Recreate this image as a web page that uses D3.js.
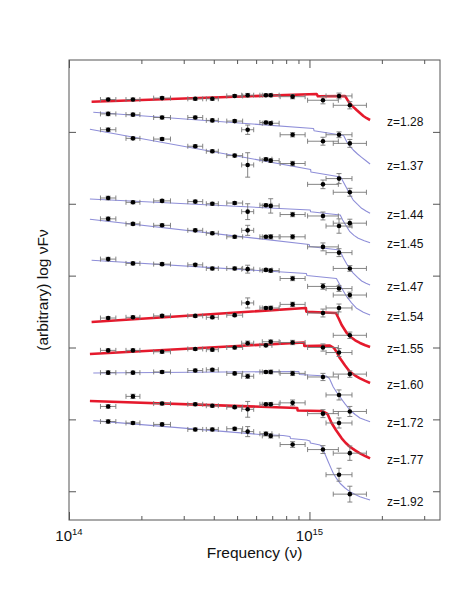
<!DOCTYPE html>
<html>
<head>
<meta charset="utf-8">
<script src="https://cdn.jsdelivr.net/npm/d3@7"></script>
<style>
body { margin: 0; background: #fff; }
svg text { font-family: "Liberation Sans", Arial, Helvetica, sans-serif; fill: #111; }
</style>
</head>
<body>
<div id="sed_container"></div>
<script>
// Filters (observed frame): frequency in Hz, half band width in dex
const filterNames = ['K', 'H', 'J', 'z', 'i', 'r', 'V', 'g', 'B', 'U', 'UVW1', 'UVM2', 'UVW2']
const filterFreq = [1.455e14, 1.845e14, 2.438e14, 3.35e14, 3.945e14, 4.887e14, 5.534e14, 6.59e14, 6.90e14, 8.51e14, 1.138e15, 1.327e15, 1.472e15]
const filterHalfWidth = [0.032, 0.029, 0.035, 0.031, 0.025, 0.033, 0.025, 0.025, 0.035, 0.052, 0.064, 0.054, 0.069]

// Sources, top to bottom
const redshifts = [1.28, 1.37, 1.44, 1.45, 1.47, 1.54, 1.55, 1.60, 1.72, 1.77, 1.92]
const modelKind = ['red', 'blue', 'blue', 'blue', 'blue', 'blue', 'red', 'red', 'blue', 'red', 'blue']

// Photometry, log nuFnu (arbitrary offsets), one row per source, columns follow filterNames
const fluxes = [
	[5.45, 5.45, 5.47, 5.46, 5.46, 5.50, 5.51, 5.51, 5.51, 5.49, 5.44, 5.50, 5.37],
	[5.25, 5.24, 5.20, 5.20, 5.16, 5.15, 5.03, 5.13, 5.12, 4.96, 4.87, 4.96, 4.84],
	[5.03, 4.91, 4.90, 4.80, 4.73, 4.67, 4.54, 4.62, 4.60, 4.56, 4.27, 4.35, 4.16],
	[4.08, 4.02, 4.04, 4.03, 4.00, 4.01, 3.89, 3.98, 3.97, 3.85, 3.83, 3.69, 3.73],
	[3.79, 3.72, 3.70, 3.63, 3.59, 3.54, 3.63, 3.54, 3.54, 3.54, 3.40, 3.32, 3.10],
	[3.23, 3.17, 3.16, 3.15, 3.10, 3.10, 3.09, 3.08, 3.07, 2.96, 2.85, 2.82, 2.73],
	[2.41, 2.42, 2.44, 2.44, 2.42, 2.45, 2.62, 2.55, 2.55, 2.60, 2.48, 2.55, 2.17],
	[1.96, 1.96, 1.94, 1.98, 1.97, 2.00, 2.06, 2.03, 2.08, 2.07, 2.00, 1.93, 1.63],
	[1.65, 1.65, 1.66, 1.68, 1.69, 1.64, 1.60, 1.66, 1.66, 1.64, 1.59, 1.34, 1.11],
	[1.18, 1.32, 1.22, 1.21, 1.19, 1.17, 1.14, 1.21, 1.21, 1.23, 1.08, 0.95, 0.53],
	[0.97, 0.95, 0.93, 0.86, 0.86, 0.87, 0.83, 0.80, 0.77, 0.65, 0.58, 0.23, -0.04]
]
const fluxErrors = [
	[0.02, 0.02, 0.02, 0.02, 0.02, 0.02, 0.025, 0.02, 0.02, 0.03, 0.05, 0.04, 0.05],
	[0.025, 0.02, 0.02, 0.02, 0.02, 0.02, 0.065, 0.02, 0.025, 0.03, 0.055, 0.04, 0.055],
	[0.025, 0.02, 0.02, 0.02, 0.02, 0.02, 0.17, 0.02, 0.025, 0.03, 0.06, 0.07, 0.055],
	[0.025, 0.02, 0.02, 0.02, 0.02, 0.02, 0.11, 0.02, 0.1, 0.03, 0.055, 0.1, 0.055],
	[0.025, 0.02, 0.02, 0.02, 0.02, 0.02, 0.07, 0.02, 0.03, 0.03, 0.055, 0.055, 0.04],
	[0.025, 0.02, 0.02, 0.02, 0.02, 0.02, 0.055, 0.02, 0.025, 0.03, 0.04, 0.04, 0.04],
	[0.02, 0.02, 0.02, 0.02, 0.02, 0.02, 0.07, 0.02, 0.025, 0.03, 0.055, 0.055, 0.045],
	[0.02, 0.02, 0.02, 0.02, 0.02, 0.02, 0.03, 0.02, 0.025, 0.03, 0.05, 0.055, 0.045],
	[0.025, 0.02, 0.02, 0.02, 0.02, 0.02, 0.03, 0.02, 0.025, 0.03, 0.05, 0.07, 0.07],
	[0.025, 0.03, 0.02, 0.02, 0.02, 0.02, 0.11, 0.02, 0.025, 0.04, 0.055, 0.07, 0.1],
	[0.025, 0.02, 0.02, 0.02, 0.02, 0.02, 0.07, 0.025, 0.03, 0.04, 0.055, 0.09, 0.11]
]

// Model curves, [log10 nu, log nuFnu]
const models = [
	[[14.094, 5.420], [15.030, 5.527], [15.035, 5.495], [15.148, 5.499], [15.158, 5.445], [15.168, 5.398], [15.182, 5.348], [15.196, 5.304], [15.210, 5.262], [15.224, 5.221], [15.238, 5.190], [15.252, 5.165]],
	[[14.101, 5.272], [15.017, 5.047], [15.019, 5.016], [15.142, 4.950], [15.155, 4.863], [15.168, 4.800], [15.182, 4.748], [15.200, 4.692], [15.217, 4.646], [15.235, 4.598], [15.252, 4.553]],
	[[14.087, 5.036], [15.005, 4.477], [15.006, 4.442], [15.130, 4.372], [15.142, 4.295], [15.155, 4.215], [15.168, 4.128], [15.182, 4.052], [15.200, 3.990], [15.217, 3.937], [15.235, 3.898], [15.252, 3.867]],
	[[14.087, 4.066], [15.003, 3.913], [15.005, 3.889], [15.128, 3.843], [15.138, 3.775], [15.148, 3.718], [15.168, 3.611], [15.185, 3.560], [15.203, 3.519], [15.228, 3.485], [15.252, 3.458]],
	[[14.087, 3.784], [14.999, 3.433], [15.001, 3.405], [15.125, 3.356], [15.141, 3.245], [15.155, 3.162], [15.168, 3.095], [15.182, 3.036], [15.200, 2.975], [15.217, 2.925], [15.235, 2.893], [15.252, 2.870]],
	[[14.094, 3.213], [14.987, 3.030], [14.989, 3.002], [15.112, 2.960], [15.127, 2.870], [15.141, 2.785], [15.155, 2.707], [15.175, 2.620], [15.196, 2.545], [15.224, 2.490], [15.252, 2.452]],
	[[14.094, 2.355], [14.985, 2.550], [14.987, 2.498], [15.110, 2.480], [15.122, 2.400], [15.134, 2.313], [15.155, 2.202], [15.168, 2.153], [15.190, 2.100], [15.210, 2.063], [15.232, 2.032], [15.252, 2.007]],
	[[14.087, 1.910], [14.977, 2.070], [14.979, 2.021], [15.085, 2.028], [15.102, 1.993], [15.115, 1.925], [15.127, 1.850], [15.148, 1.750], [15.168, 1.663], [15.190, 1.610], [15.210, 1.571], [15.232, 1.535], [15.252, 1.506]],
	[[14.101, 1.645], [14.956, 1.666], [14.958, 1.624], [15.069, 1.603], [15.083, 1.569], [15.099, 1.450], [15.113, 1.378], [15.127, 1.311], [15.148, 1.215], [15.168, 1.130], [15.190, 1.068], [15.210, 1.019], [15.232, 0.990], [15.252, 0.968]],
	[[14.087, 1.256], [14.949, 1.158], [14.951, 1.123], [15.052, 1.117], [15.075, 1.075], [15.092, 0.950], [15.110, 0.852], [15.134, 0.737], [15.150, 0.675], [15.168, 0.620], [15.190, 0.568], [15.210, 0.528], [15.232, 0.490], [15.252, 0.458]],
	[[14.101, 0.982], [14.794, 0.790], [14.890, 0.776], [14.919, 0.762], [14.921, 0.734], [14.988, 0.713], [15.002, 0.699], [15.004, 0.671], [15.044, 0.643], [15.052, 0.616], [15.057, 0.574], [15.068, 0.490], [15.078, 0.411], [15.089, 0.325], [15.099, 0.250], [15.113, 0.175], [15.127, 0.111], [15.148, 0.045], [15.168, -0.006], [15.190, -0.046], [15.210, -0.076], [15.232, -0.102], [15.252, -0.122]]
]

// Axis ticks
const xMajorTicks = [1e14, 1e15]
const xMinorTicks = [2e14, 3e14, 4e14, 5e14, 6e14, 7e14, 8e14, 9e14, 2e15, 3e15]
const xTickExp = ['14', '15']
const yTicks = [0, 1, 2, 3, 4, 5]

// Set Chart Dimensions
const chartWidth = 463
const chartHeight = 612
const plotLeft = 69
const plotRight = 440
const plotTop = 60
const plotBottom = 520

// Set XY scales
let scaleX = d3.scaleLog()
	.domain([1e14, 3.49e15])
	.range([plotLeft, plotRight])
let scaleY = d3.scaleLinear()
	.domain([-0.4, 6.0])
	.range([plotBottom, plotTop])

// Set Colors
let red_color = '#e5192c'
let blue_color = '#8e8ed8'
let frame_color = '#555'
let err_color = '#777'

// Create Chart Area
let svg = d3.select('#sed_container')
	.append('svg')
	.attr('width', chartWidth)
	.attr('height', chartHeight)

// Frame
svg.append('rect')
	.attr('x', plotLeft)
	.attr('y', plotTop)
	.attr('width', plotRight - plotLeft)
	.attr('height', plotBottom - plotTop)
	.attr('fill', 'none')
	.attr('stroke', frame_color)
	.attr('stroke-width', 1)

// Ticks, all pointing inward
function addAxis(axis, tx, ty) {
	let g = svg.append('g')
		.attr('transform', 'translate(' + tx + ',' + ty + ')')
		.call(axis)
	g.select('.domain').remove()
	g.selectAll('line').attr('stroke', frame_color)
	return g
}
addAxis(d3.axisBottom(scaleX).tickValues(xMajorTicks).tickSize(-8).tickFormat(''), 0, plotBottom)
addAxis(d3.axisBottom(scaleX).tickValues(xMinorTicks).tickSize(-4).tickFormat(''), 0, plotBottom)
addAxis(d3.axisTop(scaleX).tickValues(xMajorTicks).tickSize(-8).tickFormat(''), 0, plotTop)
addAxis(d3.axisTop(scaleX).tickValues(xMinorTicks).tickSize(-4).tickFormat(''), 0, plotTop)
addAxis(d3.axisLeft(scaleY).tickValues(yTicks).tickSize(-7).tickFormat(''), plotLeft, 0)
addAxis(d3.axisRight(scaleY).tickValues(yTicks).tickSize(-7).tickFormat(''), plotRight, 0)

// X tick labels 10^n
xMajorTicks.forEach((t, i) => {
	let label = svg.append('text')
		.attr('x', scaleX(t))
		.attr('y', 541)
		.attr('text-anchor', 'middle')
		.style('font-size', '15px')
	label.append('tspan').text('10')
	label.append('tspan')
		.attr('dy', -6)
		.style('font-size', '9.5px')
		.text(xTickExp[i])
})

// Axis titles
svg.append('text')
	.attr('x', (plotLeft + plotRight) / 2)
	.attr('y', 558)
	.attr('text-anchor', 'middle')
	.style('font-size', '15.5px')
	.text('Frequency (ν)')
svg.append('text')
	.attr('transform', 'translate(48,' + ((plotTop + plotBottom) / 2) + ') rotate(-90)')
	.attr('text-anchor', 'middle')
	.style('font-size', '15.5px')
	.text('(arbitrary) log νFν')

// Model curves
let modelLine = d3.line()
	.x((d) => scaleX(Math.pow(10, d[0])))
	.y((d) => scaleY(d[1]))
svg.selectAll('path.model')
	.data(models)
	.enter()
	.append('path')
	.attr('class', 'model')
	.attr('d', modelLine)
	.attr('fill', 'none')
	.attr('stroke', (d, i) => modelKind[i] == 'red' ? red_color : blue_color)
	.attr('stroke-width', (d, i) => modelKind[i] == 'red' ? 2.6 : 1.1)
	.attr('stroke-linejoin', 'round')

// Photometric points with error bars
let points = []
fluxes.forEach((row, s) => {
	row.forEach((v, f) => {
		points.push({ freq: filterFreq[f], hw: filterHalfWidth[f], v: v, err: fluxErrors[s][f] })
	})
})
let cap = 2.5
let errG = svg.append('g')
	.attr('stroke', err_color)
	.attr('stroke-width', 0.9)
	.attr('fill', 'none')
points.forEach((p) => {
	let cx = scaleX(p.freq)
	let cy = scaleY(p.v)
	let xl = scaleX(p.freq / Math.pow(10, p.hw))
	let xr = scaleX(p.freq * Math.pow(10, p.hw))
	let yt = scaleY(p.v + p.err)
	let yb = scaleY(p.v - p.err)
	errG.append('line').attr('x1', xl).attr('x2', xr).attr('y1', cy).attr('y2', cy)
	errG.append('line').attr('x1', xl).attr('x2', xl).attr('y1', cy - cap).attr('y2', cy + cap)
	errG.append('line').attr('x1', xr).attr('x2', xr).attr('y1', cy - cap).attr('y2', cy + cap)
	errG.append('line').attr('x1', cx).attr('x2', cx).attr('y1', yt).attr('y2', yb)
	errG.append('line').attr('x1', cx - cap).attr('x2', cx + cap).attr('y1', yt).attr('y2', yt)
	errG.append('line').attr('x1', cx - cap).attr('x2', cx + cap).attr('y1', yb).attr('y2', yb)
})
svg.selectAll('circle.obs')
	.data(points)
	.enter()
	.append('circle')
	.attr('class', 'obs')
	.attr('cx', (p) => scaleX(p.freq))
	.attr('cy', (p) => scaleY(p.v))
	.attr('r', 2.3)
	.attr('fill', '#000')

// Redshift labels at the end of each model curve
svg.selectAll('text.zlabel')
	.data(models)
	.enter()
	.append('text')
	.attr('class', 'zlabel')
	.attr('x', (d) => scaleX(Math.pow(10, d[d.length - 1][0])) + 17)
	.attr('y', (d) => scaleY(d[d.length - 1][1]) + 1.5)
	.attr('dy', '0.35em')
	.style('font-size', '12px')
	.text((d, i) => 'z=' + redshifts[i].toFixed(2))
</script>
</body>
</html>
